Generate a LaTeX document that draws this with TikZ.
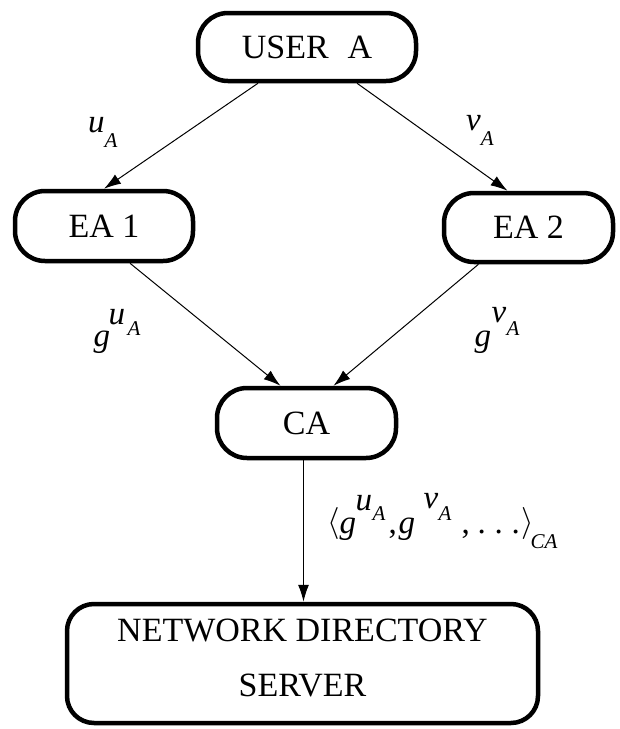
\documentclass[tikz,border=0pt]{standalone}
\usepackage{graphicx}
\usepackage{fontspec}
\setmainfont{Liberation Serif}
\usetikzlibrary{arrows.meta}
\newcommand{\lbsub}[2]{\textit{#1}\raisebox{-15pt}{\fontsize{21}{21}\selectfont\textit{#2}}}
\newcommand{\pc}[3]{\makebox[0pt][l]{\hspace{#1}\raisebox{#2}{#3}}}
\newcommand{\smallA}[1]{{\fontsize{21}{21}\selectfont\textit{#1}}}
\newcommand{\bigang}[1]{\scalebox{3.2}{\fontsize{10}{12}\selectfont$#1$}}
\begin{document}
\begin{tikzpicture}[x=1pt,y=-1pt,
  box/.style={draw,line width=4.5pt,rounded corners=30pt,inner sep=0pt,align=center,font=\fontsize{34}{55}\selectfont},
  arr/.style={-{Latex[length=17pt,width=11pt]},line width=1pt},
  lbl/.style={inner sep=0pt,anchor=base west,font=\fontsize{33}{40}\selectfont}]
\fill[white] (0,0) rectangle (620,729);
\useasboundingbox (0,0) rectangle (620,729);
\node[box,minimum width=218pt,minimum height=68pt] (user) at (307,47) {USER\hspace{0.3em}\ A};
\node[box,minimum width=178pt,minimum height=70pt] (ea1) at (104,226) {EA 1};
\node[box,minimum width=169pt,minimum height=69pt] (ea2) at (528.5,227.5) {EA 2};
\node[box,minimum width=179pt,minimum height=70pt] (ca) at (306.5,423) {CA};
\node[box,rounded corners=27pt,minimum width=471pt,minimum height=119pt,text depth=12pt] (server) at (302.5,663.5) {NETWORK DIRECTORY\\SERVER};
\draw[arr] ([xshift=-49pt]user.south) -- (ea1.north);
\draw[arr] ([xshift=50pt]user.south) -- ([xshift=-21pt]ea2.north);
\draw[arr] ([xshift=26pt]ea1.south) -- ([xshift=-26pt]ca.north);
\draw[arr] ([xshift=-50pt]ea2.south) -- ([xshift=27pt]ca.north);
\coordinate (cabot) at ([xshift=-3pt]ca.south);
\draw[arr] (cabot) -- (cabot |- server.north);
\node[lbl] (lu) at (88,132) {\lbsub{u}{A}};
\node[lbl] (lv) at (466,130) {\lbsub{v}{A}};
\node[lbl] (lgu) at (93,346) {\pc{0pt}{0pt}{\textit{g}}\pc{15pt}{22pt}{\textit{u}}\pc{34pt}{11pt}{\smallA{A}}};
\node[lbl] (lgv) at (474,346) {\pc{0pt}{0pt}{\textit{g}}\pc{17pt}{24pt}{\textit{v}}\pc{32pt}{11pt}{\smallA{A}}};
\node[lbl] (lcert) at (327,533) {\pc{0pt}{2pt}{\bigang{\langle}}\pc{12pt}{0pt}{\textit{g}}\pc{28pt}{23pt}{\textit{u}}\pc{45pt}{13pt}{\smallA{A}}\pc{61pt}{0pt}{,}\pc{71pt}{0pt}{\textit{g}}\pc{96pt}{25pt}{\textit{v}}\pc{111pt}{13pt}{\smallA{A}}\pc{134pt}{0pt}{,}\pc{150pt}{0pt}{.}\pc{167pt}{0pt}{.}\pc{184pt}{0pt}{.}\pc{194pt}{2pt}{\bigang{\rangle}}\pc{203pt}{-15pt}{\smallA{CA}}\hspace{241pt}};
\end{tikzpicture}
\end{document}
